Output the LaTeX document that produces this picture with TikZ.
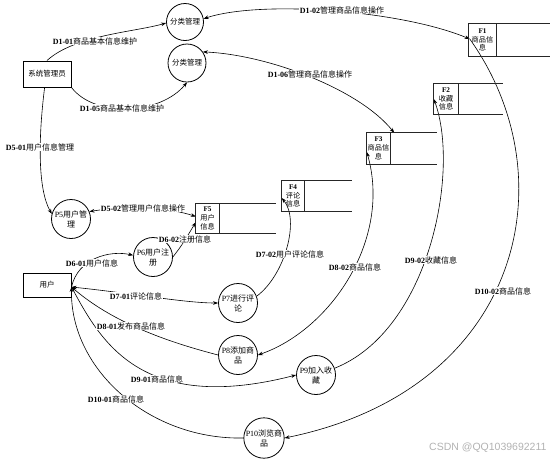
\documentclass[tikz,border=0pt]{standalone}
\usepackage{fontspec}
\setmainfont{Liberation Serif}
\newfontfamily\cjk{Noto Sans CJK SC}
\newfontfamily\wmfont{Liberation Sans}
\usetikzlibrary{arrows.meta,calc}
\newcommand\zh[1]{{\cjk #1}}
\newcommand\lbl[2]{{\bfseries #1}{\cjk #2}}
\begin{document}
\begin{tikzpicture}[x=1pt,y=-1pt,
  >={Stealth[length=5pt,width=3.6pt]},
  proc/.style={circle, draw, line width=0.8pt, minimum size=39pt, inner sep=0pt, align=center, font=\fontsize{8}{10}\selectfont},
  ent/.style={draw, line width=1pt, minimum width=48pt, minimum height=26pt, inner sep=0pt, font=\cjk\fontsize{7.5}{9}\selectfont},
  store/.style={inner sep=0pt, align=center, font=\fontsize{7.2}{8.8}\selectfont},
  storeline/.style={line width=1pt, black!85},
  flow/.style={line width=0.6pt},
  lab/.style={fill=white, inner sep=0.5pt, font=\fontsize{8}{9}\selectfont}]
\useasboundingbox (0,0) rectangle (552,459);

% processes
\node[proc, minimum size=37pt, font=\fontsize{7.5}{9}\selectfont] (fa) at (185,22) {\zh{分类管理}};
\node[proc, minimum size=38pt, font=\fontsize{7.5}{9}\selectfont] (fb) at (187,63) {\zh{分类管理}};
\node[proc] (p5) at (71,219) {P5\zh{用户管}\\\zh{理}};
\node[proc] (p6) at (153,257) {P6\zh{用户注}\\\zh{册}};
\node[proc] (p7) at (238,303) {P7\zh{进行评}\\\zh{论}};
\node[proc] (p8) at (238,355) {P8\zh{添加商}\\\zh{品}};
\node[proc] (p9) at (316,375) {P9\zh{加入收}\\\zh{藏}};
\node[proc] (p10) at (264,438) {P10\zh{浏览商}\\\zh{品}};

% external entities
\node[ent] (admin) at (47,74) {系统管理员};
\node[ent, minimum height=24pt] (user) at (47,285) {用户};

% data stores (anchors only; outlines drawn at the end)
\node[store, minimum width=27pt, minimum height=32pt] (f1) at (482.5,40) {\textbf{F1}\\\zh{商品信}\\\zh{息}};
\node[store, minimum width=24pt, minimum height=30pt] (f2) at (446,99) {\textbf{F2}\\\zh{收藏}\\\zh{信息}};
\node[store, minimum width=23pt, minimum height=31pt] (f3) at (378.5,148.5) {\textbf{F3}\\\zh{商品信}\\\zh{息}};
\node[store, minimum width=22pt, minimum height=30pt] (f4) at (293,196) {\textbf{F4}\\\zh{评论}\\\zh{信息}};
\node[store, minimum width=23pt, minimum height=29pt] (f5) at (207.5,218.5) {\textbf{F5}\\\zh{用户}\\\zh{信息}};

% connector end points
\coordinate (ua) at ($(user.east)+(0,2)$);
\coordinate (f1a) at ($(f1.west)+(1,-1)$);
\coordinate (f3a) at ($(f3.north east)+(4,0)$);
\coordinate (f3b) at ($(f3.west)+(0,3.5)$);
\coordinate (f4a) at ($(f4.west)+(0,2)$);
\coordinate (f5a) at ($(f5.south west)+(0,-11)$);
\coordinate (f5b) at ($(f5.west)+(0,-2)$);

% flows
\draw[flow,->] (admin.north) .. controls (75,35) and (135,32) .. (fa.183);
\draw[flow,<->] (fa.10) .. controls (260,0) and (400,10) .. (f1a);
\draw[flow,->] (admin.south east) .. controls (95,118) and (160,115) .. (fb.south);
\draw[flow,<->] (fb.35) .. controls (270,55) and (360,90) .. (f3a);
\draw[flow,->] (admin.260) .. controls (38,140) and (38,190) .. (p5.165);
\draw[flow,<->] (p5.22) .. controls (130,205) and (170,208) .. (f5b);
\draw[flow,->] (ua) .. controls (78,258) and (110,250) .. (p6.175);
\draw[flow,->] (p6.0) .. controls (182,245) .. (f5a);
\draw[flow,<->] (ua) .. controls (130,293) and (185,303) .. (p7.180);
\draw[flow,->] (p7.20) .. controls (285,275) and (300,220) .. (f4a);
\draw[flow,<->] (f3b) .. controls (392,240) and (330,330) .. (p8.0);
\draw[flow,->] (p8.180) .. controls (160,340) and (110,320) .. (ua);
\draw[flow,->] (ua) .. controls (100,340) and (140,415) .. (p9.180);
\draw[flow,->] (p9.20) .. controls (430,330) and (460,170) .. (f2.west);
\draw[flow,->] (f1a) .. controls (570,180) and (520,390) .. (p10.0);
\draw[flow,->] (p10.180) .. controls (150,440) and (70,370) .. (ua);

% flow labels
\node[lab] (l101) at (95,41) {\lbl{D1-01}{商品基本信息维护}};
\node[lab] (l102) at (342,10) {\lbl{D1-02}{管理商品信息操作}};
\node[lab] (l105) at (122,108) {\lbl{D1-05}{商品基本信息维护}};
\node[lab] (l106) at (310,74) {\lbl{D1-06}{管理商品信息操作}};
\node[lab] (l501) at (40,147) {\lbl{D5-01}{用户信息管理}};
\node[lab] (l502) at (143,208) {\lbl{D5-02}{管理用户信息操作}};
\node[lab] (l601) at (92,263) {\lbl{D6-01}{用户信息}};
\node[lab] (l602) at (185,239) {\lbl{D6-02}{注册信息}};
\node[lab] (l701) at (136,296) {\lbl{D7-01}{评论信息}};
\node[lab] (l702) at (290,254) {\lbl{D7-02}{用户评论信息}};
\node[lab] (l801) at (131,326) {\lbl{D8-01}{发布商品信息}};
\node[lab] (l802) at (355,267) {\lbl{D8-02}{商品信息}};
\node[lab] (l901) at (157,379) {\lbl{D9-01}{商品信息}};
\node[lab] (l902) at (431,260) {\lbl{D9-02}{收藏信息}};
\node[lab] (l1001) at (116,399) {\lbl{D10-01}{商品信息}};
\node[lab] (l1002) at (503,291) {\lbl{D10-02}{商品信息}};

% data store outlines
\foreach \s/\len in {f1/54, f2/45, f3/47, f4/48, f5/57} {
  \draw[storeline] (\s.north west) rectangle (\s.south east);
  \draw[storeline] (\s.north east) -- ++(\len,0) (\s.south east) -- ++(\len,0);
}

% watermark
\node[anchor=east, font=\wmfont\fontsize{10.5}{12}\selectfont, text=black!30] (wm) at (550,448) {CSDN @QQ1039692211};
\end{tikzpicture}
\end{document}
